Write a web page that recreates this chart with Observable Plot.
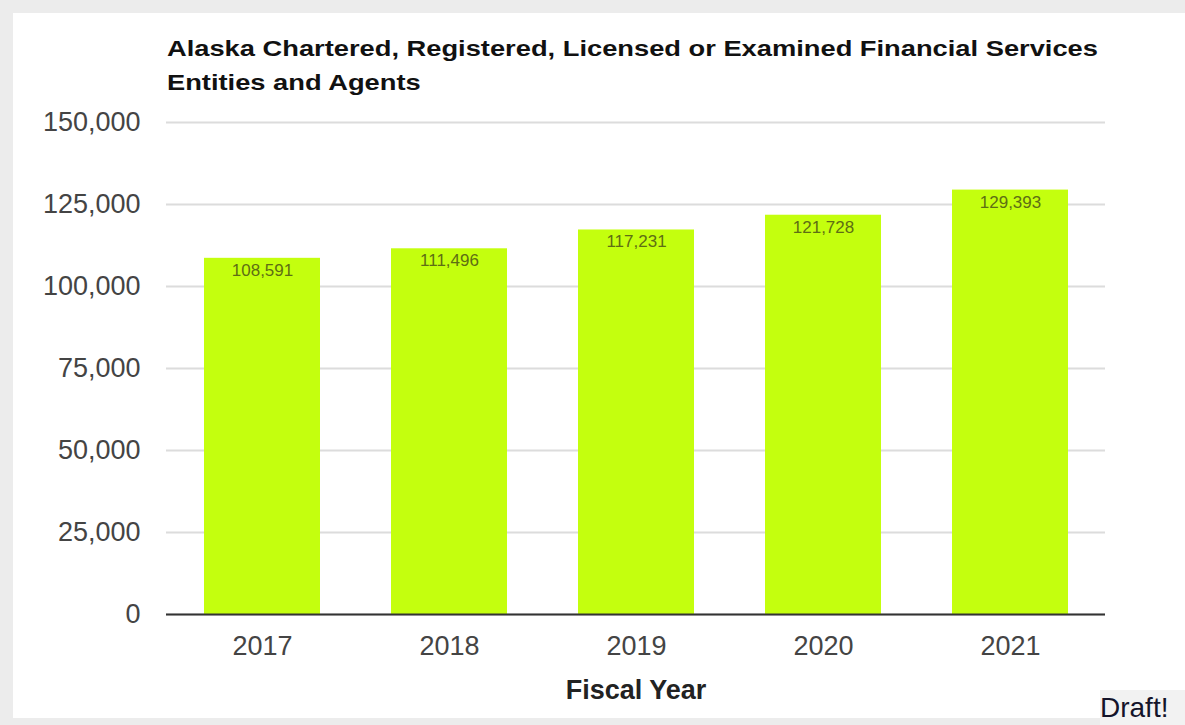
<!DOCTYPE html>
<html>
<head>
<meta charset="utf-8">
<script src="https://cdn.jsdelivr.net/npm/d3@7"></script>
<script src="https://cdn.jsdelivr.net/npm/@observablehq/plot@0.6"></script>
<style>
  html, body { margin: 0; padding: 0; width: 1185px; height: 725px; overflow: hidden; background: #ececec; font-family: "Liberation Sans", Arial, sans-serif; }
  #panel { position: absolute; left: 13px; top: 13px; width: 1172px; height: 705px; background: #ffffff; }
  #title { position: absolute; left: 167px; top: 32px; font-size: 22px; line-height: 34px; font-weight: bold; color: #111; white-space: nowrap; transform-origin: 0 0; transform: scaleX(1.24); }
  #chart { position: absolute; left: 0; top: 100px; }
  #draft { position: absolute; left: 1100px; top: 690px; width: 85px; height: 35px; background: #f2f2f2; color: #14142a; font-size: 28px; line-height: 36px; padding-left: 0px; box-sizing: border-box; }
</style>
</head>
<body>
<div id="panel"></div>
<div id="title">Alaska Chartered, Registered, Licensed or Examined Financial Services<br>Entities and Agents</div>
<div id="chart"></div>
<div id="draft">Draft!</div>
<script>
const years = ["2017", "2018", "2019", "2020", "2021"];
const values = [108591, 111496, 117231, 121728, 129393];
const yTicks = [0, 25000, 50000, 75000, 100000, 125000, 150000];
const xLabel = "Fiscal Year";

const data = years.map((y, i) => ({year: y, value: values[i]}));
const fmt = d3.format(",");

const chart = Plot.plot({
  width: 1185,
  height: 625,
  marginTop: 22,
  marginBottom: 111,
  marginLeft: 166,
  marginRight: 80,
  style: {fontFamily: "'Liberation Sans', Arial, sans-serif", background: "transparent", overflow: "visible"},
  x: {domain: years, paddingInner: 0.38, paddingOuter: 0.19, label: null},
  y: {domain: [0, 150000], label: null},
  marks: [
    Plot.gridY(yTicks, {stroke: "#dcdcdc", strokeOpacity: 1, strokeWidth: 2}),
    Plot.barY(data, {x: "year", y: "value", fill: "#c4ff0e"}),
    Plot.ruleY([0], {stroke: "#333", strokeWidth: 2}),
    Plot.text(data, {x: "year", y: "value", text: d => fmt(d.value), dy: 12, fill: "#5e6e14", fontSize: 17}),
    Plot.axisX({tickSize: 0, tickPadding: 21, fontSize: 27, color: "#444", label: null}),
    Plot.axisY({ticks: yTicks, tickSize: 0, tickPadding: 26, fontSize: 27, color: "#444", tickFormat: fmt, label: null}),
    Plot.text([xLabel], {frameAnchor: "bottom", text: d => d, dy: 84, lineAnchor: "bottom", fontWeight: "bold", fontSize: 27, fill: "#222"})
  ]
});
document.getElementById("chart").appendChild(chart);
</script>
</body>
</html>
